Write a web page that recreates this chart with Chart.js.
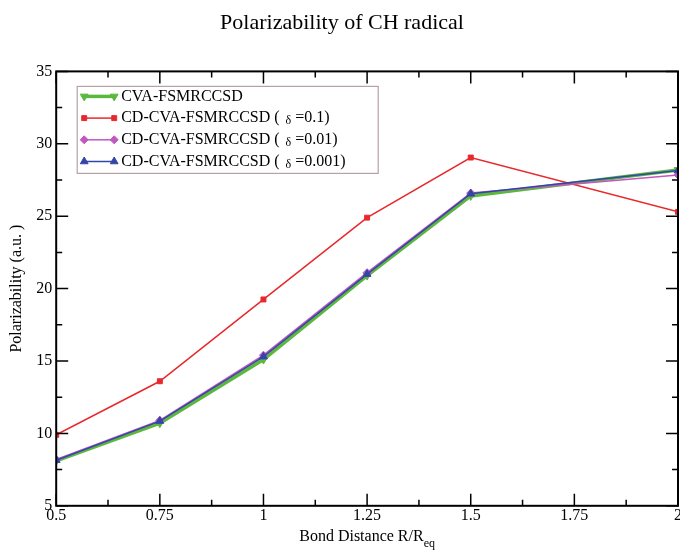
<!DOCTYPE html>
<html>
<head>
<meta charset="utf-8">
<script src="https://cdn.jsdelivr.net/npm/chart.js@4.4.1/dist/chart.umd.min.js"></script>
<style>
  html, body { margin: 0; padding: 0; background: #fff; }
  #wrap { width: 680px; height: 550px; }
</style>
</head>
<body>
<div id="wrap"><canvas id="grafico"></canvas></div>
<script>
// dados
const distancias = [0.5, 0.75, 1.0, 1.25, 1.5, 2.0];
const cvaFsmrccsd = [8.1, 10.7, 15.1, 20.9, 26.4, 28.2];
const cdDelta01 = [9.9, 13.6, 19.25, 24.9, 29.05, 25.3];
const cdDelta001 = [8.2, 10.9, 15.4, 21.1, 26.6, 27.85];
const cdDelta0001 = [8.15, 10.85, 15.3, 21.0, 26.55, 28.15];

const nomes = ['CVA-FSMRCCSD', 'CD-CVA-FSMRCCSD ( ', 'CD-CVA-FSMRCCSD ( ', 'CD-CVA-FSMRCCSD ( '];
const deltas = ['', '=0.1)', '=0.01)', '=0.001)'];

const xTicks = [0.5, 0.75, 1, 1.25, 1.5, 1.75, 2];
const yTicks = [5, 10, 15, 20, 25, 30, 35];

const serif = '"Liberation Serif", "DejaVu Serif", serif';

function pontos(valores) {
    return distancias.map((x, i) => ({ x: x, y: valores[i] }));
}

// moldura, marcas internas e legenda no estilo xmgrace
const molduraPlugin = {
    id: 'moldura',
    afterDraw(chart) {
        const ctx = chart.ctx;
        const a = chart.chartArea;
        const sx = chart.scales.x;
        const sy = chart.scales.y;
        ctx.save();
        ctx.strokeStyle = '#000';
        ctx.lineWidth = 2;
        ctx.strokeRect(a.left, a.top, a.right - a.left, a.bottom - a.top);

        ctx.lineWidth = 1.5;
        for (let v = 0.5; v <= 2.0001; v += 0.125) {
            const px = sx.getPixelForValue(v);
            const major = Math.abs(v / 0.25 - Math.round(v / 0.25)) < 1e-6;
            const len = major ? 12 : 6;
            ctx.beginPath();
            ctx.moveTo(px, a.bottom); ctx.lineTo(px, a.bottom - len);
            ctx.moveTo(px, a.top); ctx.lineTo(px, a.top + len);
            ctx.stroke();
        }
        for (let v = 5; v <= 35.001; v += 2.5) {
            const py = sy.getPixelForValue(v);
            const major = v % 5 === 0;
            const len = major ? 12 : 6;
            ctx.beginPath();
            ctx.moveTo(a.left, py); ctx.lineTo(a.left + len, py);
            ctx.moveTo(a.right, py); ctx.lineTo(a.right - len, py);
            ctx.stroke();
        }

        // título do eixo x com subscrito
        ctx.fillStyle = '#000';
        ctx.textBaseline = 'alphabetic';
        const t1 = 'Bond Distance R/R';
        ctx.font = '16px ' + serif;
        const w1 = ctx.measureText(t1).width;
        ctx.font = '12px ' + serif;
        const w2 = ctx.measureText('eq').width;
        const cx = (a.left + a.right) / 2;
        const x0 = cx - (w1 + w2) / 2;
        ctx.font = '16px ' + serif;
        ctx.textAlign = 'left';
        ctx.fillText(t1, x0, 541);
        ctx.font = '12px ' + serif;
        ctx.fillText('eq', x0 + w1, 547);

        // legenda
        const lx = a.left + 21, ly = a.top + 15, lw = 301, lh = 87;
        ctx.fillStyle = '#fff';
        ctx.fillRect(lx, ly, lw, lh);
        ctx.strokeStyle = '#b8a0a4';
        ctx.lineWidth = 1.2;
        ctx.strokeRect(lx, ly, lw, lh);

        chart.data.datasets.forEach((ds, i) => {
            const y = ly + 10 + i * 21.7;
            const x1 = lx + 7, x2 = lx + 37;
            ctx.strokeStyle = ds.borderColor;
            ctx.lineWidth = ds.borderWidth;
            ctx.beginPath();
            ctx.moveTo(x1, y); ctx.lineTo(x2, y);
            ctx.stroke();
            const opts = {
                pointStyle: ds.pointStyle,
                radius: ds.pointRadius,
                rotation: ds.rotation || 0,
                borderWidth: 1
            };
            [x1, x2].forEach(px => {
                ctx.fillStyle = ds.pointBackgroundColor;
                ctx.strokeStyle = ds.pointBackgroundColor;
                ctx.lineWidth = 1;
                Chart.helpers.drawPoint(ctx, opts, px, y);
            });

            ctx.fillStyle = '#000';
            ctx.textBaseline = 'middle';
            ctx.font = '16px ' + serif;
            let tx = lx + 44;
            ctx.fillText(nomes[i], tx, y);
            if (deltas[i]) {
                tx += ctx.measureText(nomes[i]).width;
                ctx.font = '12px ' + serif;
                ctx.fillText('δ', tx + 2, y + 3);
                tx += ctx.measureText('δ').width + 6;
                ctx.font = '16px ' + serif;
                ctx.fillText(deltas[i], tx, y);
            }
        });
        ctx.restore();
    }
};

const ctx = document.getElementById('grafico').getContext('2d');
new Chart(ctx, {
    type: 'scatter',
    data: {
        datasets: [
            {
                label: 'CVA-FSMRCCSD',
                data: pontos(cvaFsmrccsd),
                showLine: true,
                borderColor: '#5cb83c',
                backgroundColor: '#5cb83c',
                pointBackgroundColor: '#5cb83c',
                pointBorderColor: '#5cb83c',
                borderWidth: 3.5,
                pointStyle: 'triangle',
                rotation: 180,
                pointRadius: 4.5,
                pointBorderWidth: 1,
                order: 4
            },
            {
                label: 'CD-CVA-FSMRCCSD ( δ =0.1)',
                data: pontos(cdDelta01),
                showLine: true,
                borderColor: '#e8282c',
                backgroundColor: '#e8282c',
                pointBackgroundColor: '#e8282c',
                pointBorderColor: '#e8282c',
                borderWidth: 1.5,
                pointStyle: 'rect',
                pointRadius: 3.5,
                pointBorderWidth: 1,
                order: 3
            },
            {
                label: 'CD-CVA-FSMRCCSD ( δ =0.01)',
                data: pontos(cdDelta001),
                showLine: true,
                borderColor: '#c257c2',
                backgroundColor: '#c257c2',
                pointBackgroundColor: '#c257c2',
                pointBorderColor: '#c257c2',
                borderWidth: 1.5,
                pointStyle: 'rectRot',
                pointRadius: 4,
                pointBorderWidth: 1,
                order: 2
            },
            {
                label: 'CD-CVA-FSMRCCSD ( δ =0.001)',
                data: pontos(cdDelta0001),
                showLine: true,
                borderColor: '#3346a8',
                backgroundColor: '#3346a8',
                pointBackgroundColor: '#3346a8',
                pointBorderColor: '#3346a8',
                borderWidth: 1.5,
                pointStyle: 'triangle',
                pointRadius: 4.5,
                pointBorderWidth: 1,
                order: 1
            }
        ]
    },
    options: {
        responsive: true,
        maintainAspectRatio: false,
        animation: false,
        layout: { autoPadding: false, padding: { left: 6, right: 2, top: 0, bottom: 25 } },
        elements: { line: { tension: 0 } },
        scales: {
            x: {
                type: 'linear',
                min: 0.5,
                max: 2,
                afterBuildTicks: (s) => { s.ticks = xTicks.map(v => ({ value: v })); },
                afterFit: (s) => { s.paddingRight = 0; s.paddingLeft = 0; },
                ticks: {
                    color: '#000',
                    font: { family: serif, size: 16 },
                    padding: 0,
                    maxRotation: 0,
                    callback: (v) => String(v)
                },
                grid: { display: false, drawTicks: false },
                border: { display: false }
            },
            y: {
                min: 5,
                max: 35,
                afterBuildTicks: (s) => { s.ticks = yTicks.map(v => ({ value: v })); },
                ticks: {
                    color: '#000',
                    font: { family: serif, size: 16 },
                    padding: 4
                },
                grid: { display: false, drawTicks: false },
                border: { display: false },
                title: {
                    display: true,
                    text: 'Polarizability (a.u. )',
                    color: '#000',
                    font: { family: serif, size: 16 },
                    padding: { top: 1, bottom: 6 }
                }
            }
        },
        plugins: {
            legend: { display: false },
            tooltip: { enabled: false },
            title: {
                display: true,
                text: 'Polarizability of CH radical',
                color: '#000',
                font: { family: serif, size: 22, weight: 'normal' },
                padding: { top: 10, bottom: 35 }
            }
        }
    },
    plugins: [molduraPlugin]
});
</script>
</body>
</html>
